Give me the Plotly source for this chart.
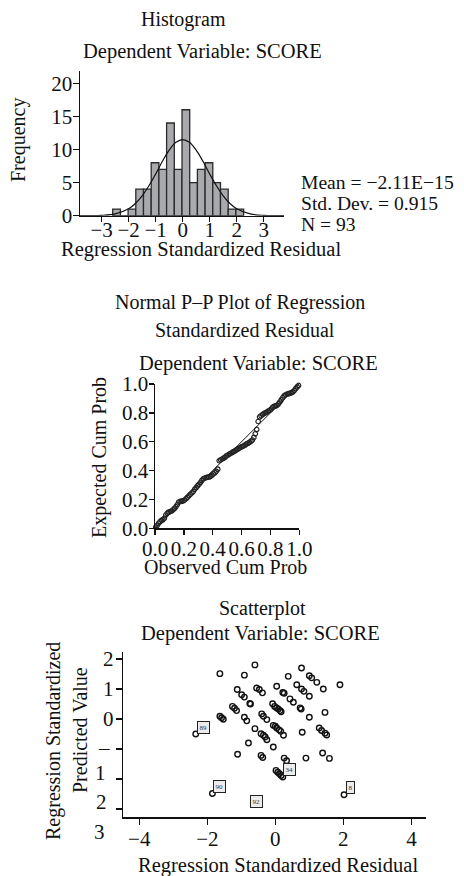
import plotly.graph_objects as go

W, H = 464, 876
FONT = "Liberation Serif"

# ---------------- Histogram data ----------------
bin_centers = [-2.4475, -2.1625, -1.8775, -1.5925, -1.3075, -1.0225, -0.7375, -0.4525,
               -0.1675, 0.1175, 0.4025, 0.6875, 0.9725, 1.2575, 1.5425, 1.8275, 2.1125]
bin_counts = [1, 0, 1, 4, 4, 8, 7, 14, 7, 16, 5, 7, 8, 5, 4, 1, 1]
bin_width = 0.285
curve_x = [-3.8, -3.5, -3.0, -2.5, -2.0, -1.75, -1.5, -1.25, -1.0, -0.75, -0.5, -0.25, 0.0,
           0.25, 0.5, 0.75, 1.0, 1.25, 1.5, 1.75, 2.0, 2.5, 3.0, 3.5, 3.75]
curve_y = [0.0, 0.01, 0.05, 0.28, 1.05, 1.85, 3.0, 4.52, 6.3, 8.22, 9.9, 11.08, 11.5,
           11.08, 9.9, 8.22, 6.3, 4.52, 3.0, 1.85, 1.05, 0.28, 0.05, 0.01, 0.0]
hist_ticks = [-3, -2, -1, 0, 1, 2, 3]
freq_ticks = [0, 5, 10, 15, 20]
hist_stats = ["Mean = −2.11E−15", "Std. Dev. = 0.915", "N = 93"]

# ---------------- P-P plot data ----------------
pp_observed = [0.005, 0.015, 0.025, 0.035, 0.045, 0.055, 0.065, 0.075, 0.085, 0.095,
               0.105, 0.115, 0.125, 0.135, 0.145, 0.155, 0.165, 0.175, 0.185, 0.195,
               0.205, 0.215, 0.225, 0.235, 0.245, 0.255, 0.265, 0.275, 0.285, 0.295,
               0.305, 0.315, 0.325, 0.335, 0.345, 0.355, 0.365, 0.375, 0.385, 0.395,
               0.405, 0.415, 0.425, 0.435, 0.445, 0.455, 0.465, 0.475, 0.485, 0.495,
               0.505, 0.515, 0.525, 0.535, 0.545, 0.555, 0.565, 0.575, 0.585, 0.595,
               0.605, 0.615, 0.625, 0.635, 0.645, 0.655, 0.665, 0.675, 0.685, 0.695,
               0.705, 0.715, 0.725, 0.735, 0.745, 0.755, 0.765, 0.775, 0.785, 0.795,
               0.805, 0.815, 0.825, 0.835, 0.845, 0.855, 0.865, 0.875, 0.885, 0.895,
               0.905, 0.915, 0.925, 0.935, 0.945, 0.955, 0.965, 0.975, 0.985, 0.995]
pp_expected = [0.008, 0.02, 0.035, 0.046, 0.055, 0.06, 0.07, 0.092, 0.105, 0.112,
               0.116, 0.12, 0.128, 0.138, 0.15, 0.165, 0.182, 0.186, 0.188, 0.19,
               0.196, 0.205, 0.215, 0.226, 0.236, 0.245, 0.255, 0.27, 0.282, 0.294,
               0.305, 0.318, 0.332, 0.343, 0.348, 0.352, 0.354, 0.356, 0.36, 0.368,
               0.378, 0.385, 0.395, 0.41, 0.468, 0.475, 0.48, 0.486, 0.493, 0.502,
               0.508, 0.514, 0.52, 0.526, 0.532, 0.538, 0.544, 0.55, 0.556, 0.562,
               0.567, 0.572, 0.578, 0.585, 0.59, 0.596, 0.604, 0.612, 0.63, 0.655,
               0.685, 0.74, 0.772, 0.78, 0.788, 0.795, 0.8, 0.806, 0.812, 0.818,
               0.826, 0.838, 0.845, 0.848, 0.852, 0.862, 0.875, 0.89, 0.905, 0.918,
               0.925, 0.93, 0.933, 0.936, 0.94, 0.945, 0.955, 0.968, 0.98, 0.99]
pp_ticks = [0.0, 0.2, 0.4, 0.6, 0.8, 1.0]
pp_ticktext = ["0.0", "0.2", "0.4", "0.6", "0.8", "1.0"]

# ---------------- Scatterplot data ----------------
resid = [-1.63, -0.60, -0.91, 0.77, 0.38, 1.00, 1.07, 1.22, 1.90, 1.41,
         0.63, 0.77, 0.84, 1.00, 0.04, -0.55, -0.47, -0.38, -1.12, -0.99,
         -0.91, -0.75, -0.73, 0.22, 0.26, 0.43, 0.53, 0.73, 0.76, -1.26,
         -1.20, -1.14, -0.08, -0.02, 0.04, 0.09, 0.14, 0.17, -1.63, -1.58,
         -1.53, -0.91, -0.84, -0.40, -0.35, -0.25, 1.00, 1.46, -0.06, 0.00,
         0.04, 0.11, 0.16, 0.24, -0.60, -0.42, -0.35, -0.30, -0.25, 1.29,
         1.36, 1.46, 1.51, 0.79, -0.79, -0.06, -1.11, -0.42, -0.37, 0.26,
         0.33, 0.90, 1.39, 1.59, 0.02, 0.07, 0.12, 0.17, 0.22, -2.34,
         -1.85, 2.02]
pred = [1.51, 1.80, 1.46, 1.70, 1.42, 1.44, 1.37, 1.22, 1.14, 1.00,
        1.14, 1.00, 0.92, 0.76, 1.09, 1.03, 0.98, 0.87, 0.98, 0.81,
        0.73, 0.52, 0.50, 0.88, 0.86, 0.67, 0.56, 0.37, 0.33, 0.42,
        0.36, 0.28, 0.51, 0.42, 0.37, 0.33, 0.28, 0.24, 0.09, 0.04,
        -0.01, 0.06, -0.06, 0.17, 0.09, -0.02, 0.06, 0.22, -0.21, -0.24,
        -0.30, -0.36, -0.41, -0.54, -0.32, -0.49, -0.54, -0.60, -0.69, -0.30,
        -0.38, -0.47, -0.53, -0.44, -0.80, -0.93, -1.17, -1.21, -1.28, -1.30,
        -1.39, -1.30, -1.13, -1.31, -1.71, -1.77, -1.82, -1.88, -1.93, -0.50,
        -2.48, -2.52]
case_labels = ["89", "90", "8", "34", "92"]
case_x = [-2.12, -1.65, 2.20, 0.43, -0.55]
case_y = [-0.27, -2.24, -2.27, -1.69, -2.74]
sc_xticks = [-4, -2, 0, 2, 4]
sc_yticks = [2, 1, 0, -1, -2, -3]
sc_yticktext = ["2", "1", "0", "", "", ""]


def px_x(x):
    return x / W


def px_y(y):
    return 1 - y / H


fig = go.Figure()

# Histogram
fig.add_trace(go.Bar(x=bin_centers, y=bin_counts, width=bin_width,
                     marker=dict(color="#a9aaae", line=dict(color="#2a2a2a", width=1.3)),
                     xaxis="x", yaxis="y", showlegend=False))
fig.add_trace(go.Scatter(x=curve_x, y=curve_y, mode="lines", line=dict(color="#111", width=1.2, shape="spline"),
                         xaxis="x", yaxis="y", showlegend=False, cliponaxis=False))

# P-P
fig.add_trace(go.Scatter(x=[0, 1], y=[0, 1], mode="lines", line=dict(color="#111", width=1),
                         xaxis="x2", yaxis="y2", showlegend=False))
fig.add_trace(go.Scatter(x=pp_observed, y=pp_expected, mode="markers",
                         marker=dict(symbol="circle-open", size=4.5, color="#222", line=dict(width=1.2)),
                         xaxis="x2", yaxis="y2", showlegend=False, cliponaxis=False))

# Scatter
fig.add_trace(go.Scatter(x=resid, y=pred, mode="markers",
                         marker=dict(symbol="circle-open", size=5.5, color="#111", line=dict(width=1.4)),
                         xaxis="x3", yaxis="y3", showlegend=False, cliponaxis=False))

axis_common = dict(showline=True, linecolor="#111", linewidth=1.5, ticks="outside", ticklen=6,
                   tickwidth=1.5, tickcolor="#111", showgrid=False, zeroline=False,
                   tickfont=dict(family=FONT, size=21, color="#111"), tickangle=0,
                   fixedrange=True, automargin=False)

fig.update_layout(
    width=W, height=H, margin=dict(l=0, r=0, t=0, b=0, pad=0, autoexpand=False),
    paper_bgcolor="white", plot_bgcolor="white",
    font=dict(family=FONT, size=20, color="#111"),
    bargap=0,
    xaxis=dict(axis_common, domain=[px_x(80), px_x(284)], range=[-3.8, 3.75],
               tickvals=hist_ticks, anchor="y", ticklen=5, ticklabelstandoff=-10),
    yaxis=dict(axis_common, domain=[px_y(215.7), px_y(70.7)], range=[0, 21.9],
               tickvals=freq_ticks, anchor="x", ticklabelstandoff=-4),
    xaxis2=dict(axis_common, domain=[px_x(155), px_x(299.3)], range=[0, 1],
                tickvals=pp_ticks, ticktext=pp_ticktext, anchor="y2", ticklen=5,
                ticklabelstandoff=-4),
    yaxis2=dict(axis_common, domain=[px_y(528.3), px_y(384)], range=[0, 1],
                tickvals=pp_ticks, ticktext=pp_ticktext, anchor="x2", ticklen=5,
                ticklabelstandoff=-4),
    xaxis3=dict(axis_common, domain=[px_x(123.3), px_x(426)], range=[-4.47, 4.43],
                tickvals=sc_xticks, anchor="y3", ticklabelstandoff=-4),
    yaxis3=dict(axis_common, domain=[px_y(817.3), px_y(651.7)], range=[-3.27, 2.24],
                tickvals=sc_yticks, ticktext=sc_yticktext, anchor="x3", ticklabelstandoff=-2),
)

ann = []


def text(t, x, y, size=20, xanchor="center", angle=0):
    ann.append(dict(text=t, x=px_x(x), y=px_y(y), xref="paper", yref="paper",
                    xanchor=xanchor, yanchor="middle", showarrow=False, textangle=angle,
                    font=dict(family=FONT, size=size, color="#111")))


# Histogram texts
text("Histogram", 183, 20)
text("Dependent Variable: SCORE", 202, 52, size=20.5)
text("Frequency", 18, 140, angle=-90)
text("Regression Standardized Residual", 201, 250, size=20.5)
for i, s in enumerate(hist_stats):
    text(s, 299, 182 + i * 21, size=19.6, xanchor="left")

# P-P texts
text("Normal P–P Plot of Regression", 240, 303)
text("Standardized Residual", 245, 330)
text("Dependent Variable: SCORE", 258, 363, size=20.5)
text("Expected Cum Prob", 99, 458, angle=-90)
text("Observed Cum Prob", 225, 567)

# Scatter texts
text("Scatterplot", 262, 608)
text("Dependent Variable: SCORE", 260, 633, size=20.5)
text("Regression Standardized", 53, 741, angle=-90)
text("Predicted Value", 80, 730, angle=-90)
text("Regression Standardized Residual", 278, 865, size=20.5)
# garbled negative tick labels
text("–", 104, 748, size=21)
text("1", 100, 773, size=21)
text("2", 101, 802, size=21)
text("3", 99, 832, size=21)

for lab, lx, ly in zip(case_labels, case_x, case_y):
    ann.append(dict(text=lab, x=lx, y=ly, xref="x3", yref="y3", showarrow=False,
                    font=dict(family=FONT, size=7, color="#333"),
                    bgcolor="#ececec", bordercolor="#222", borderwidth=1, borderpad=1.5))

fig.update_layout(annotations=ann)
fig.write_html("out.html", config={"displayModeBar": False, "staticPlot": True},
               post_script="document.body.style.margin='0';document.documentElement.style.margin='0';")
